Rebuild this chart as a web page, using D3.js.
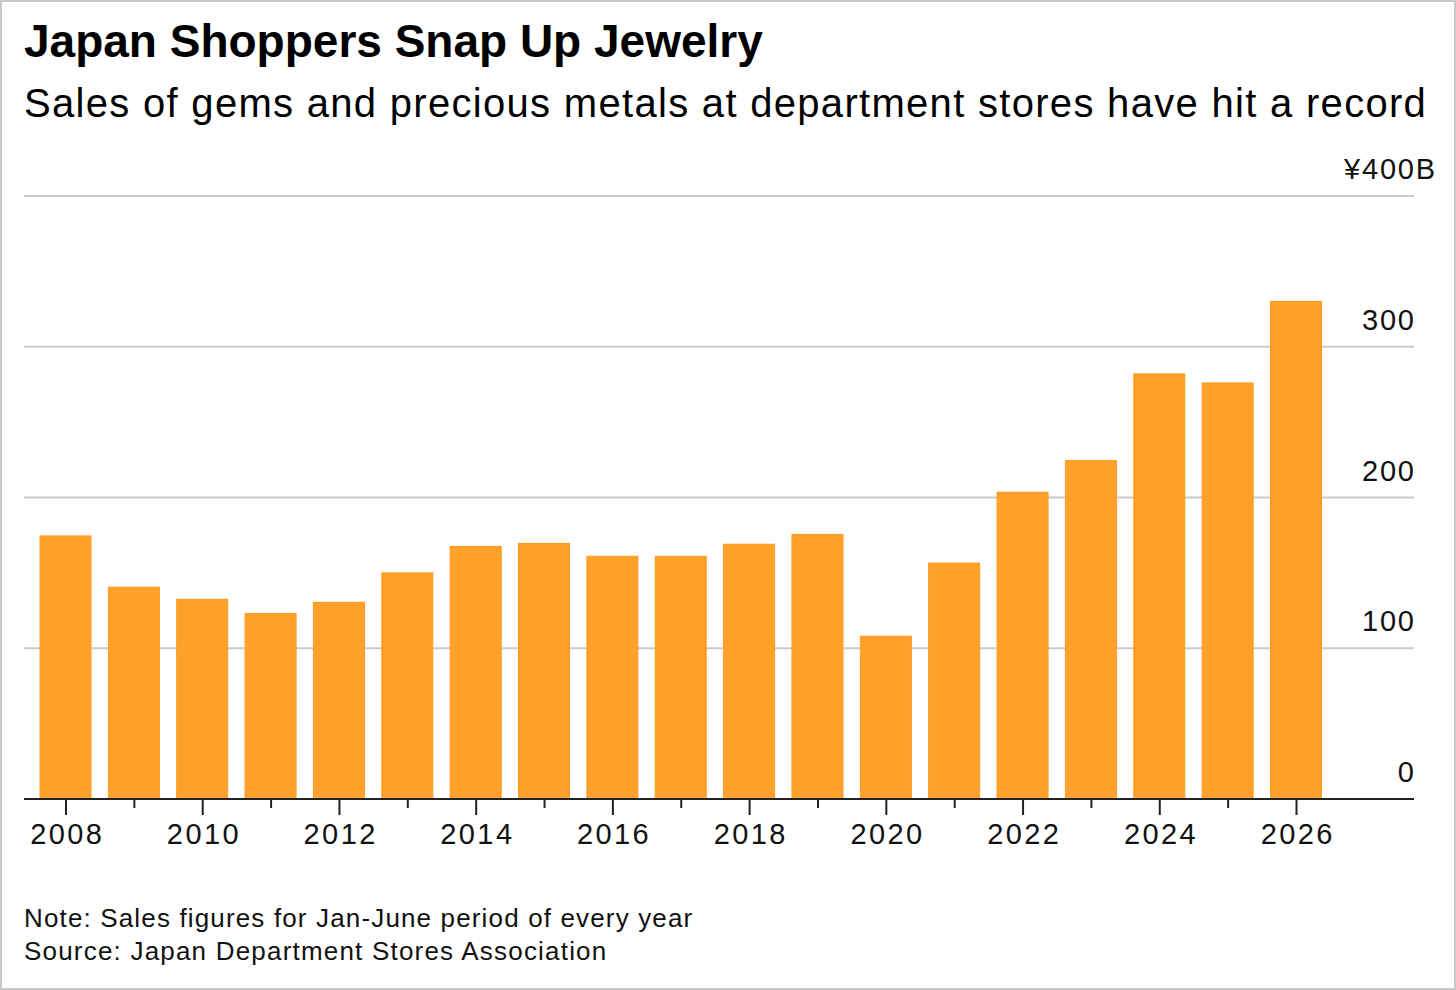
<!DOCTYPE html>
<html>
<head>
<meta charset="utf-8">
<script src="https://cdn.jsdelivr.net/npm/d3@7"></script>
<style>
  html, body { margin: 0; padding: 0; background: #fff; }
  svg { display: block; font-family: "Liberation Sans", Arial, sans-serif; }
</style>
</head>
<body>
<div id="viz"></div>
<script>
// jewelry sales, Jan-June, billion yen
var years = [2008,2009,2010,2011,2012,2013,2014,2015,2016,2017,2018,2019,2020,2021,2022,2023,2024,2025,2026];
var sales = [174.5,140.5,132.5,123,130.5,150,167.5,169.5,161,161,169,175.5,108,156.5,203.5,224.5,282,276,330];
var yTicks = [0,100,200,300,400];
var xTicks = [2008,2010,2012,2014,2016,2018,2020,2022,2024,2026];

var W = 1456, H = 990;
var plotL = 24, plotR = 1414, plotT = 196, plotB = 799;

var svg = d3.select("#viz")
    .append("svg")
    .attr("width", W)
    .attr("height", H);

// frame
svg.append("rect")
    .attr("x", 1).attr("y", 1)
    .attr("width", W - 2).attr("height", H - 2)
    .attr("fill", "none")
    .attr("stroke", "#c9c9c9")
    .attr("stroke-width", 2);

var x = d3.scaleLinear().domain([2008, 2026]).range([65.5, 1296]);
var y = d3.scaleLinear().domain([0, 400]).range([plotB, plotT]);
var barW = 51;

// gridlines
svg.append("g").selectAll("line")
    .data(yTicks.filter(function(d){ return d > 0; }))
    .enter()
    .append("line")
    .attr("x1", plotL).attr("x2", plotR)
    .attr("y1", function(d){ return y(d); })
    .attr("y2", function(d){ return y(d); })
    .attr("stroke", "#cacaca")
    .attr("stroke-width", 2);

// y labels (the B of ¥400B hangs past the right edge)
var ylab = svg.append("g").selectAll("text")
    .data(yTicks)
    .enter()
    .append("text")
    .attr("y", function(d){ return y(d) - 17; })
    .attr("text-anchor", "end")
    .attr("font-size", 29)
    .attr("letter-spacing", 1.8)
    .attr("fill", "#111");
ylab.append("tspan")
    .text(function(d){ return d == 400 ? "¥400" : d; });
ylab.filter(function(d){ return d == 400; })
    .append("tspan")
    .attr("class", "unit")
    .text("B");
ylab.attr("x", function(d){
    var extra = 0;
    if (d == 400) extra = d3.select(this).select(".unit").node().getComputedTextLength();
    return plotR + 1.8 + extra;
});

// bars
svg.append("g").selectAll("rect")
    .data(sales)
    .enter()
    .append("rect")
    .attr("x", function(d, i){ return x(years[i]) - barW / 2; })
    .attr("y", function(d){ return y(d); })
    .attr("width", barW)
    .attr("height", function(d){ return plotB - y(d); })
    .attr("fill", "#ffa12b")
    .attr("stroke", "#ff9a1c")
    .attr("stroke-width", 1);

// x axis
var xAxis = d3.axisBottom(x)
    .tickValues(years)
    .tickSize(0)
    .tickFormat(function(d){ return xTicks.indexOf(d) >= 0 ? d : ""; });

var gx = svg.append("g")
    .attr("transform", "translate(0," + plotB + ")")
    .call(xAxis);
gx.select(".domain").remove();
gx.selectAll(".tick text")
    .attr("dy", 0)
    .attr("y", 45)
    .attr("dx", 1.2)
    .attr("font-family", "Liberation Sans, Arial, sans-serif")
    .attr("font-size", 29)
    .attr("letter-spacing", 2.4)
    .attr("fill", "#111");
gx.selectAll(".tick").append("line")
    .attr("y1", 0)
    .attr("y2", function(d){ return xTicks.indexOf(d) >= 0 ? 16 : 9; })
    .attr("stroke", "#222")
    .attr("stroke-width", 2);

svg.append("line")
    .attr("x1", plotL).attr("x2", plotR)
    .attr("y1", plotB).attr("y2", plotB)
    .attr("stroke", "#222")
    .attr("stroke-width", 2);

// titles
svg.append("text")
    .attr("x", 24).attr("y", 57)
    .attr("font-size", 46)
    .attr("font-weight", "bold")
    .attr("fill", "#000")
    .text("Japan Shoppers Snap Up Jewelry");

svg.append("text")
    .attr("x", 24).attr("y", 117)
    .attr("font-size", 40)
    .attr("letter-spacing", 1.3)
    .attr("fill", "#000")
    .text("Sales of gems and precious metals at department stores have hit a record");

svg.append("text")
    .attr("x", 24).attr("y", 927)
    .attr("font-size", 26)
    .attr("letter-spacing", 1.15)
    .attr("fill", "#111")
    .text("Note: Sales figures for Jan-June period of every year");

svg.append("text")
    .attr("x", 24).attr("y", 960)
    .attr("font-size", 26)
    .attr("letter-spacing", 1.2)
    .attr("fill", "#111")
    .text("Source: Japan Department Stores Association");
</script>
</body>
</html>
